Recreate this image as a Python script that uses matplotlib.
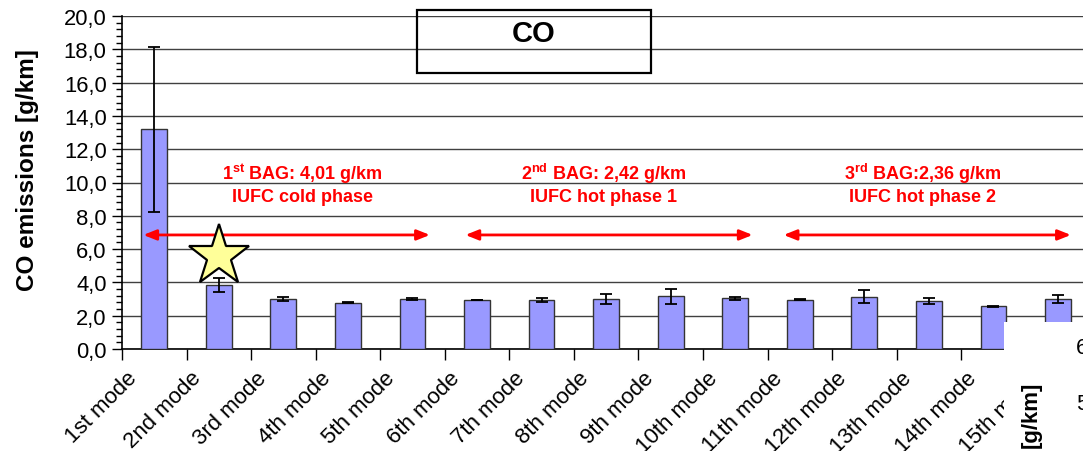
import numpy as np
import matplotlib.pyplot as plt
import matplotlib.transforms as mtransforms
from matplotlib.patches import Rectangle, FancyArrowPatch
from matplotlib.ticker import MultipleLocator, FixedLocator

plt.rcParams['font.family'] = ['Liberation Sans', 'DejaVu Sans']
plt.rcParams['mathtext.fontset'] = 'custom'
plt.rcParams['mathtext.rm'] = 'Liberation Sans'
plt.rcParams['mathtext.bf'] = 'Liberation Sans:bold'

# CO per mode, mean and spread
modes = ['1st mode', '2nd mode', '3rd mode', '4th mode', '5th mode',
         '6th mode', '7th mode', '8th mode', '9th mode', '10th mode',
         '11th mode', '12th mode', '13th mode', '14th mode', '15th mode']
co_mean = [13.2, 3.84, 3.0, 2.78, 3.0, 2.94, 2.94, 3.0, 3.16, 3.04,
           2.96, 3.14, 2.88, 2.56, 3.0]
co_err = [4.95, 0.43, 0.1, 0.02, 0.07, 0.02, 0.1, 0.28, 0.43, 0.1,
          0.02, 0.4, 0.19, 0.05, 0.22]

# bag results over the three IUFC phases
bag_labels = [r'1$^{\mathbf{st}}$ BAG: 4,01 g/km',
              r'2$^{\mathbf{nd}}$ BAG: 2,42 g/km',
              r'3$^{\mathbf{rd}}$ BAG:2,36 g/km']
phase_labels = ['IUFC cold phase', 'IUFC hot phase 1', 'IUFC hot phase 2']
phase_spans = [(-0.17, 4.27), (4.82, 9.27), (9.75, 14.2)]
phase_text_x = [2.29, 6.96, 11.9]
arrow_y = 6.85
star_pos = (1.0, 5.6)

W, H = 1083, 452
fig = plt.figure(figsize=(W / 100, H / 100), dpi=100)
ax = fig.add_axes([122 / W, 102 / H, 1 - 122 / W, 333 / H])

x = np.arange(len(modes))
ax.bar(x, co_mean, width=0.4, color='#9999ff', edgecolor='#333333',
       linewidth=1.0, zorder=3)
ax.errorbar(x, co_mean, yerr=co_err, fmt='none', ecolor='black',
            elinewidth=1.3, capsize=4, capthick=1.3, zorder=4)

ax.set_xlim(-0.5, -0.5 + (W - 122) / 64.55)
ax.set_ylim(0, 20)

ax.yaxis.set_major_locator(MultipleLocator(2))
ax.yaxis.set_minor_locator(MultipleLocator(0.4))
ax.yaxis.set_major_formatter(lambda v, p: f'{v:.1f}'.replace('.', ','))
ax.tick_params(axis='y', which='major', length=7, width=1, pad=4,
               labelsize=15.8, direction='out')
ax.tick_params(axis='y', which='minor', length=4, width=1, direction='out')

ax.xaxis.set_major_locator(FixedLocator(x))
ax.xaxis.set_minor_locator(FixedLocator(np.arange(-0.5, len(modes), 1)))
ax.set_xticklabels(modes, rotation=45, ha='right')
ax.tick_params(axis='x', which='major', length=0, pad=13, labelsize=16)
ax.tick_params(axis='x', which='minor', length=8, width=1, direction='out')
shift = mtransforms.ScaledTranslation(-13 / 100, 0, fig.dpi_scale_trans)
for lab in ax.get_xticklabels():
    lab.set_transform(lab.get_transform() + shift)

ax.grid(axis='y', which='major', color='#404040', linewidth=1.0, zorder=0)
ax.set_axisbelow(True)
for s in ['top', 'right']:
    ax.spines[s].set_visible(False)
for s in ['left', 'bottom']:
    ax.spines[s].set_linewidth(1.2)
    ax.spines[s].set_color('black')

fig.text(28 / W, 1 - 170 / H, 'CO emissions [g/km]', rotation=90,
         ha='center', va='center', fontsize=17.5, fontweight='bold')

# phase arrows and bag texts
for (x0, x1), bag, ph, tx in zip(phase_spans, bag_labels, phase_labels, phase_text_x):
    ax.add_patch(FancyArrowPatch((x0, arrow_y), (x1, arrow_y),
                                 arrowstyle='<|-|>,head_length=0.55,head_width=0.22',
                                 mutation_scale=14, color='red', linewidth=2.0,
                                 shrinkA=0, shrinkB=0, zorder=5))
    ax.text(tx, 10.6, bag, color='red', fontsize=13, fontweight='bold',
            ha='center', va='center', zorder=6)
    ax.text(tx, 9.15, ph, color='red', fontsize=13, fontweight='bold',
            ha='center', va='center', zorder=6)

ax.plot(*star_pos, marker='*', markersize=46, markerfacecolor='#ffff99',
        markeredgecolor='black', markeredgewidth=1.6, zorder=7)

# title box
fig.patches.append(Rectangle((417 / W, 1 - 74 / H), 234 / W, 63 / H,
                             transform=fig.transFigure, fill=False,
                             edgecolor='black', linewidth=1.6, zorder=8))
fig.text(534 / W, 1 - 34 / H, 'CO', ha='center', va='center',
         fontsize=21, fontweight='bold')

# neighbouring chart pasted over the corner
fig.patches.append(Rectangle((1004 / W, 0), (W - 1004) / W, 129 / H,
                             transform=fig.transFigure, facecolor='white',
                             edgecolor='none', zorder=20))
fig.text(1031 / W, 1 - 382 / H, '[g/km]', rotation=90, ha='center', va='top',
         fontsize=16, fontweight='bold', zorder=21)
fig.text(1076 / W, 1 - 349 / H, '6', ha='left', va='center',
         fontsize=16, zorder=21)
fig.text(1076 / W, 1 - 405 / H, '5', ha='left', va='center',
         fontsize=16, zorder=21)

fig.savefig('out.png', dpi=100)
